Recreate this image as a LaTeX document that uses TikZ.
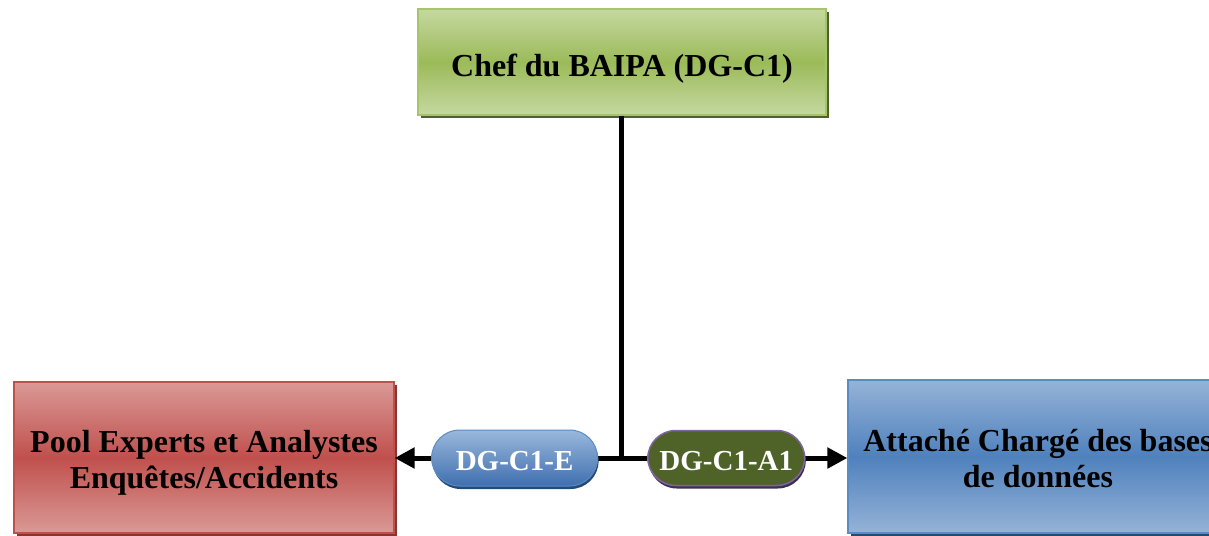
\documentclass[tikz,border=0pt]{standalone}
\usepackage{fontspec}
\setmainfont{Liberation Serif}
\usetikzlibrary{arrows.meta,shadows}
\newcommand\shiftdown[2]{\raisebox{-#1}[\height][\depth]{#2}}
\definecolor{gTop}{HTML}{C5D8A0}
\definecolor{gMid}{HTML}{9BBB59}
\definecolor{gEdge}{HTML}{A6C46A}
\definecolor{gShadow}{HTML}{4F6228}
\definecolor{rTop}{HTML}{DA9996}
\definecolor{rMid}{HTML}{C0504D}
\definecolor{rEdge}{HTML}{C0504D}
\definecolor{rShadow}{HTML}{8C3330}
\definecolor{bTop}{HTML}{95B3D7}
\definecolor{bMid}{HTML}{4F81BD}
\definecolor{bEdge}{HTML}{5B8BC4}
\definecolor{bShadow}{HTML}{244A75}
\definecolor{pTop}{HTML}{9AB8DC}
\definecolor{pBot}{HTML}{3F6FAF}
\definecolor{oFill}{HTML}{4F6228}
\definecolor{oEdge}{HTML}{8064A2}
\definecolor{oShadow}{HTML}{3A3050}
\tikzset{
  box/.style={rectangle, line width=1.2pt, align=center, inner sep=0pt,
    font=\fontsize{32}{36}\selectfont\bfseries},
  greenbox/.style={box, draw=gEdge, top color=gTop, bottom color=gTop, middle color=gMid,
    drop shadow={shadow xshift=3pt, shadow yshift=-3pt, fill=gShadow, opacity=1}},
  redbox/.style={box, draw=rEdge, top color=rTop, bottom color=rTop, middle color=rMid,
    drop shadow={shadow xshift=3pt, shadow yshift=-3pt, fill=rShadow, opacity=1}},
  bluebox/.style={box, draw=bEdge, top color=bTop, bottom color=bTop, middle color=bMid,
    drop shadow={shadow xshift=3pt, shadow yshift=-3pt, fill=bShadow, opacity=1}},
  pill/.style={rectangle, rounded corners=28pt, inner sep=0pt, text=white,
    font=\fontsize{29}{32}\selectfont\bfseries},
  bluepill/.style={pill, draw=bEdge, line width=1pt, top color=pTop, bottom color=pBot,
    minimum width=166pt, minimum height=56pt,
    drop shadow={shadow xshift=1pt, shadow yshift=-3pt, fill=bShadow, opacity=1}},
  olivepill/.style={pill, draw=oEdge, line width=1.5pt, fill=oFill,
    minimum width=157pt, minimum height=55pt,
    drop shadow={shadow xshift=1pt, shadow yshift=-3pt, fill=oShadow, opacity=1}},
  link/.style={line width=5pt},
  arrowlink/.style={link, -{Triangle[length=20pt,width=20pt]}}
}
\begin{document}
\begin{tikzpicture}[x=1pt,y=-1pt]
\useasboundingbox (0,0) rectangle (1209,535);
\node[greenbox, minimum width=408pt, minimum height=106pt] (chef) at (622,62) {\shiftdown{7pt}{Chef du BAIPA (DG-C1)}};
\node[redbox, minimum width=380pt, minimum height=151pt] (pool) at (204,457.5) {\shiftdown{5pt}{Pool Experts et Analystes}\\\shiftdown{5pt}{Enquêtes/Accidents}};
\node[bluebox, minimum width=380pt, minimum height=153pt] (attache) at (1038,456.5) {\shiftdown{2pt}{Attaché Chargé des bases}\\\shiftdown{2pt}{de données}};
\coordinate (j) at (621,458);
\draw[link] (chef.south -| j) -- ([yshift=-2.5pt]j);
\draw[arrowlink] (j) -- node[bluepill, pos=0.47] (e) {\shiftdown{3pt}{DG-C1-E}} (j -| pool.east);
\draw[arrowlink] (j) -- node[olivepill, pos=0.465] (a1) {\shiftdown{3pt}{DG-C1-A1}} (j -| attache.west);
\end{tikzpicture}
\end{document}
